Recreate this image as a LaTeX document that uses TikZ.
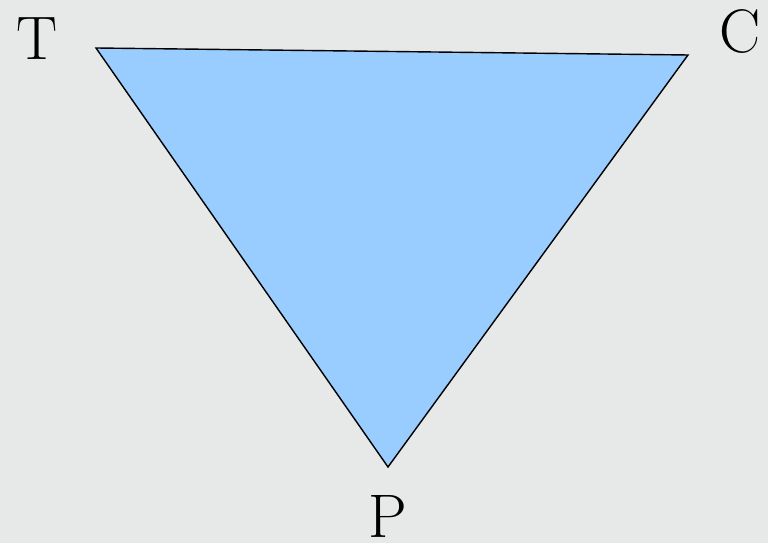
\documentclass[tikz,border=0pt]{standalone}
\definecolor{bggrey}{RGB}{231,233,233}
\definecolor{triblue}{RGB}{153,204,255}
\tikzset{vlabel/.style={font=\fontsize{35}{40}\selectfont, inner sep=0pt}}
\begin{document}
\begin{tikzpicture}[x=0.02cm,y=-0.02cm]
\fill[bggrey] (0,0) rectangle (768,543);
\useasboundingbox (0,0) rectangle (768,543);
\coordinate (t) at (96,48);
\coordinate (c) at (688,55);
\coordinate (p) at (388,467);
\filldraw[fill=triblue, draw=black, line width=0.8pt, line join=miter] (t) -- (c) -- (p) -- cycle;
\node[vlabel] (tl) at (37,39) {T};
\node[vlabel] (cl) at (740,32) {C};
\node[vlabel] (pl) at (388,517) {P};
\end{tikzpicture}
\end{document}
